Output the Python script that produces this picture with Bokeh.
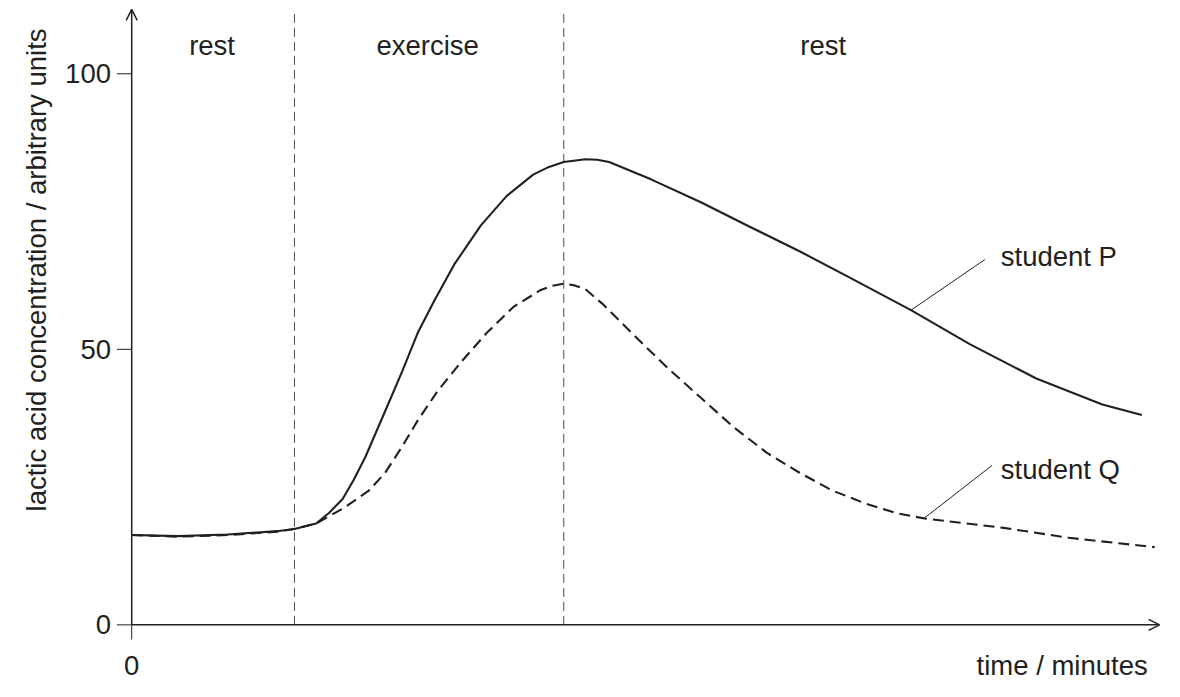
from bokeh.plotting import figure
from bokeh.models import Range1d, Label, Arrow, OpenHead
from bokeh.core.properties import value
from bokeh.embed import file_html
from bokeh.resources import INLINE

# time is in arbitrary units, only the origin is labelled on the chart
time_p = [0, 4.7, 9.7, 14.7, 16.5, 18.7, 20.0, 21.4, 22.5, 23.7, 25.7, 27.4, 29.0,
          30.7, 32.7, 35.4, 38.0, 40.7, 42.3, 43.8, 46.0, 47.2, 48.4, 52.7, 57.7,
          62.7, 67.7, 72.7, 79.0, 85.0, 91.7, 98.4, 102.4]
conc_p = [16.3, 16.1, 16.4, 17.0, 17.4, 18.4, 20.3, 22.9, 26.3, 30.5, 38.8, 45.9, 53.0,
          58.9, 65.4, 72.5, 77.8, 81.7, 83.1, 84.0, 84.5, 84.4, 84.0, 80.8, 76.7,
          72.2, 67.8, 63.1, 57.1, 50.9, 44.7, 40.0, 38.1]

time_q = [0, 4.7, 9.7, 14.7, 16.5, 18.7, 21.4, 24.0, 25.7, 27.4, 29.0, 31.0,
          33.4, 36.0, 38.7, 41.4, 42.6, 43.8, 44.9, 46.0, 47.7, 51.0, 54.4, 57.7,
          61.0, 64.4, 67.7, 71.0, 74.4, 77.7, 80.4, 88.4, 95.0, 103.7]
conc_q = [16.3, 16.0, 16.3, 16.9, 17.4, 18.4, 21.1, 24.3, 27.6, 32.3, 37.1, 42.4,
          47.7, 53.0, 57.7, 60.7, 61.5, 61.9, 61.6, 60.9, 58.3, 52.4, 46.5, 41.2,
          35.9, 31.2, 27.6, 24.4, 22.0, 20.2, 19.3, 17.6, 15.8, 14.1]

phase_bounds = [16.5, 43.8]
phase_names = ["rest", "exercise", "rest"]
phase_centres = [8.15, 30.0, 70.1]
y_ticks = [0, 50, 100]
y_tick_labels = ["0", "50", "100"]
x_ticks = [0]
x_tick_labels = ["0"]

students = ["student P", "student Q"]
leader_x0 = [79.0, 80.3]
leader_y0 = [57.1, 19.3]
leader_x1 = [86.5, 87.2]
leader_y1 = [66.3, 28.9]
label_y = [66.8, 28.2]

ink = "#231f20"
font = "Liberation Sans"
fsize = "27.5px"

x_end = 104.2
y_end = 111.7

# frame fills the whole canvas; axes are drawn by hand
p = figure(width=1164, height=681, output_backend="svg", toolbar_location=None,
           x_range=Range1d(-13.3, 104.7), y_range=Range1d(-10.28, 113.3),
           x_axis_location=None, y_axis_location=None,
           min_border=0)
p.outline_line_color = None
p.xgrid.visible = False
p.ygrid.visible = False

# axes with arrowheads
p.add_layout(Arrow(end=OpenHead(size=11, line_width=1.5, line_color=ink),
                   x_start=0, y_start=0, x_end=x_end, y_end=0,
                   line_width=1.5, line_color=ink))
p.add_layout(Arrow(end=OpenHead(size=11, line_width=1.5, line_color=ink),
                   x_start=0, y_start=0, x_end=0, y_end=y_end,
                   line_width=1.5, line_color=ink))

# ticks
p.segment(x0=[-1.5] * len(y_ticks), y0=y_ticks, x1=[0] * len(y_ticks), y1=y_ticks,
          line_color=ink, line_width=1)
p.segment(x0=x_ticks, y0=[0] * len(x_ticks), x1=x_ticks, y1=[-2.66] * len(x_ticks),
          line_color=ink, line_width=1)
p.text(x=[-2.1] * len(y_ticks), y=y_ticks, text=y_tick_labels,
       text_font=value(font), text_font_size=fsize, text_color=ink,
       text_align="right", text_baseline="middle")

# x axis texts share one baseline
bottom_texts = x_tick_labels + ["time / minutes"]
bottom_x = x_ticks + [103.0]
p.text(x=bottom_x[:1], y=[-7.4], text=bottom_texts[:1],
       text_font=value(font), text_font_size=fsize, text_color=ink,
       text_align="center", text_baseline="alphabetic")
p.text(x=bottom_x[1:], y=[-7.4], text=bottom_texts[1:],
       text_font=value(font), text_font_size=fsize, text_color=ink,
       text_align="right", text_baseline="alphabetic")

# phase boundaries
p.segment(x0=phase_bounds, y0=0, x1=phase_bounds, y1=y_end,
          line_color="#4d4d4d", line_width=1, line_dash="9 5")
p.text(x=phase_centres, y=[105.05] * len(phase_centres), text=phase_names,
       text_font=value(font), text_font_size=fsize, text_color=ink,
       text_align="center", text_baseline="alphabetic")

p.line(time_p, conc_p, line_color=ink, line_width=2.1, line_join="round")
p.line(time_q, conc_q, line_color=ink, line_width=2.1, line_dash="11 6")

p.segment(x0=leader_x0, y0=leader_y0, x1=leader_x1, y1=leader_y1,
          line_color=ink, line_width=1)
p.text(x=[88.1] * len(students), y=label_y, text=students,
       text_font=value(font), text_font_size=fsize, text_color=ink,
       text_baseline="alphabetic")

p.add_layout(Label(x=-9.6, y=64.4, angle=90, angle_units="deg",
                   text="lactic acid concentration / arbitrary units",
                   text_font=font, text_font_size=fsize, text_color=ink,
                   text_align="center", text_baseline="alphabetic"))

open("out.html", "w").write(file_html(p, INLINE))
